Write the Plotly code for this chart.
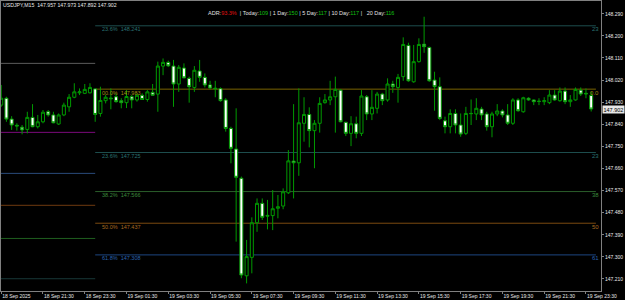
import plotly.graph_objects as go

# ---------------- data ----------------
bar_index = list(range(114))  # M15 bars from 18 Sep 19:30 to 19 Sep 23:45

opens = [
    147.918, 147.946, 147.861, 147.836, 147.828, 147.819, 147.868, 147.830, 147.850, 147.891,
    147.878, 147.841, 147.878, 147.911, 147.950, 147.968, 147.966, 147.968, 147.984, 147.884,
    147.936, 147.947, 147.952, 147.936, 147.928, 147.952, 147.939, 147.958, 147.941, 147.970,
    147.963, 148.077, 148.092, 148.077, 148.004, 148.069, 148.027, 147.990, 148.057, 148.031,
    148.000, 147.987, 147.985, 147.939, 147.823, 147.739, 147.620, 147.223, 147.298, 147.439,
    147.518, 147.469, 147.468, 147.498, 147.507, 147.561, 147.690, 147.683, 147.844, 147.880,
    147.814, 147.844, 147.928, 147.939, 147.952, 147.979, 147.848, 147.803, 147.842, 147.803,
    147.952, 147.882, 147.905, 147.963, 147.939, 148.004, 147.990, 148.034, 148.161, 148.013,
    148.095, 148.166, 148.153, 148.020, 147.993, 147.854, 147.830, 147.884, 147.837, 147.803,
    147.883, 147.882, 147.902, 147.882, 147.830, 147.882, 147.894, 147.878, 147.844, 147.939,
    147.891, 147.946, 147.939, 147.934, 147.932, 147.928, 147.959, 147.936, 147.975, 147.932,
    147.939, 147.979, 147.966, 147.957]

highs = [
    148.000, 147.952, 147.873, 147.844, 147.837, 147.891, 147.922, 147.878, 147.898, 147.898,
    147.891, 147.884, 147.928, 147.963, 148.007, 147.986, 148.004, 148.007, 147.986, 147.993,
    147.959, 147.986, 147.966, 147.946, 147.979, 147.959, 147.966, 147.966, 147.979, 148.004,
    148.095, 148.108, 148.099, 148.102, 148.081, 148.088, 148.034, 148.077, 148.102, 148.047,
    148.017, 148.017, 147.990, 147.946, 147.830, 147.905, 147.627, 147.369, 147.461, 147.538,
    147.538, 147.532, 147.572, 147.552, 147.579, 147.735, 147.922, 147.986, 147.950, 147.909,
    147.857, 147.950, 147.963, 148.017, 148.034, 147.982, 147.850, 147.873, 147.871, 147.979,
    147.959, 147.979, 147.972, 147.968, 148.027, 148.017, 148.045, 148.194, 148.172, 148.163,
    148.190, 148.278, 148.156, 148.054, 148.031, 147.871, 147.901, 147.901, 147.884, 147.911,
    147.941, 147.946, 147.911, 147.891, 147.891, 147.922, 147.901, 147.922, 147.946, 147.946,
    147.952, 147.950, 147.941, 147.946, 147.950, 147.979, 147.979, 147.990, 147.990, 147.959,
    147.990, 147.990, 147.986, 147.973]

lows = [
    147.911, 147.850, 147.817, 147.814, 147.799, 147.803, 147.828, 147.823, 147.844, 147.871,
    147.844, 147.837, 147.873, 147.891, 147.946, 147.959, 147.963, 147.966, 147.850, 147.871,
    147.925, 147.901, 147.928, 147.905, 147.906, 147.905, 147.932, 147.939, 147.932, 147.955,
    147.891, 148.040, 148.073, 147.911, 147.972, 148.027, 147.928, 147.972, 148.013, 147.990,
    147.982, 147.950, 147.932, 147.810, 147.681, 147.362, 147.213, 147.192, 147.233, 147.402,
    147.450, 147.412, 147.409, 147.457, 147.494, 147.556, 147.538, 147.630, 147.769, 147.746,
    147.661, 147.806, 147.924, 147.918, 147.806, 147.848, 147.792, 147.751, 147.783, 147.792,
    147.857, 147.857, 147.884, 147.918, 147.932, 147.968, 147.928, 148.017, 148.013, 148.009,
    148.091, 148.131, 148.013, 147.895, 147.857, 147.803, 147.803, 147.803, 147.789, 147.796,
    147.837, 147.857, 147.857, 147.814, 147.787, 147.873, 147.868, 147.837, 147.837, 147.891,
    147.887, 147.936, 147.918, 147.918, 147.918, 147.922, 147.936, 147.932, 147.922, 147.911,
    147.936, 147.955, 147.946, 147.892]

closes = [
    147.946, 147.861, 147.837, 147.833, 147.817, 147.868, 147.830, 147.850, 147.889, 147.878,
    147.846, 147.878, 147.918, 147.950, 147.972, 147.972, 147.982, 147.990, 147.880, 147.937,
    147.950, 147.944, 147.932, 147.928, 147.953, 147.939, 147.958, 147.941, 147.972, 147.958,
    148.077, 148.092, 148.078, 148.004, 148.072, 148.029, 147.993, 148.060, 148.031, 148.000,
    147.988, 147.985, 147.936, 147.823, 147.742, 147.624, 147.226, 147.301, 147.439, 147.518,
    147.461, 147.466, 147.496, 147.504, 147.565, 147.691, 147.683, 147.846, 147.880, 147.814,
    147.844, 147.925, 147.939, 147.952, 147.982, 147.850, 147.803, 147.842, 147.803, 147.955,
    147.882, 147.909, 147.963, 147.936, 148.004, 147.993, 148.031, 148.165, 148.017, 148.095,
    148.165, 148.156, 148.017, 147.993, 147.864, 147.830, 147.884, 147.837, 147.800, 147.884,
    147.884, 147.905, 147.878, 147.830, 147.882, 147.894, 147.878, 147.844, 147.939, 147.895,
    147.948, 147.939, 147.932, 147.933, 147.936, 147.959, 147.939, 147.975, 147.932, 147.939,
    147.982, 147.963, 147.964, 147.902]

x_tick_pos = [0, 8, 16, 24, 32, 40, 48, 56, 64, 72, 80, 88, 96, 104, 112]
x_tick_labels = ["18 Sep 2025", "18 Sep 21:30", "18 Sep 23:30", "19 Sep 01:30", "19 Sep 03:30",
                 "19 Sep 05:30", "19 Sep 07:30", "19 Sep 09:30", "19 Sep 11:30", "19 Sep 13:30",
                 "19 Sep 15:30", "19 Sep 17:30", "19 Sep 19:30", "19 Sep 21:30", "19 Sep 23:30"]

y_ticks = [147.210, 147.300, 147.390, 147.480, 147.570, 147.660, 147.750,
           147.840, 147.930, 148.020, 148.110, 148.200, 148.290]
y_tick_labels = ["%.3f" % v for v in y_ticks]

# today's fibonacci levels
fib_names = ["23.6%", "00.0%", "23.6%", "38.2%", "50.0%", "61.8%"]
fib_values = [148.241, 147.983, 147.725, 147.566, 147.437, 147.308]
fib_short = ["23", "0.0", "23", "38", "50", "61"]
fib_line_colors = ["#1d4d4d", "#7a6400", "#1d4d4d", "#2a5e2a", "#7a4a10", "#1c4680"]
fib_text_colors = ["#2a7272", "#a08a10", "#2a7272", "#3c8a3c", "#a86a20", "#2a64b0"]
fib_start_bar = 18

# previous day's levels (short lines on the left)
prev_values = [148.088, 147.807, 147.640, 147.510, 147.375, 147.211]
prev_colors = ["#5c5c5c", "#7a0a7a", "#2a4a7a", "#6e3a10", "#1f5f1f", "#183838"]

header_text = "USDJPY,M15  147.957 147.973 147.892 147.902"
adr_parts = [("ADR:", "#e0e0e0"), ("93.3%", "#e01010"), ("  | Today:", "#e0e0e0"), ("109", "#10c010"),
             (" | 1 Day:", "#e0e0e0"), ("150", "#10c010"), (" | 5 Day:", "#e0e0e0"), ("117", "#10c010"),
             (" | 10 Day:", "#e0e0e0"), ("117", "#10c010"), (" |   20 Day:", "#e0e0e0"), ("116", "#10c010")]
last_price = 147.902

assert len(opens) == len(highs) == len(lows) == len(closes) == len(bar_index)

# ---------------- figure ----------------
W, H = 625, 300
ML, MR, MT, MB = 1, 24, 1, 9
PW = W - ML - MR
PH = H - MT - MB
FONT = "Liberation Sans, Arial, sans-serif"
WICK = "#009a00"


def px_x(px):
    return (px - ML) / PW


def px_y(py):
    return (H - MB - py) / PH


fig = go.Figure()
fig.add_trace(go.Candlestick(
    x=bar_index, open=opens, high=highs, low=lows, close=closes,
    increasing=dict(line=dict(color=WICK, width=1), fillcolor="#000000"),
    decreasing=dict(line=dict(color=WICK, width=1), fillcolor="#ffffff"),
    whiskerwidth=0, hoverinfo="skip", showlegend=False,
))

shapes = []
annotations = []
x_left, x_right = -0.04, 114.88
for v, c in zip(prev_values, prev_colors):
    shapes.append(dict(type="line", xref="x", yref="y", x0=x_left, x1=fib_start_bar, y0=v, y1=v,
                       line=dict(color=c, width=1), layer="below"))

for name, v, s, lc, tc in zip(fib_names, fib_values, fib_short, fib_line_colors, fib_text_colors):
    shapes.append(dict(type="line", xref="x", yref="y", x0=fib_start_bar, x1=113.9, y0=v, y1=v,
                       line=dict(color=lc, width=1), layer="below"))
    annotations.append(dict(xref="paper", yref="y", x=px_x(100), y=v, yshift=-3.5,
                            text="%s  %.3f" % (name, v), showarrow=False, xanchor="left",
                            yanchor="middle", font=dict(family=FONT, size=5.5, color=tc)))
    annotations.append(dict(xref="paper", yref="y", x=px_x(601), y=v, yshift=-3.5,
                            text=s, showarrow=False, xanchor="right", yanchor="middle",
                            font=dict(family=FONT, size=6, color=tc)))

annotations.append(dict(xref="paper", yref="paper", x=px_x(1), y=px_y(5), text=header_text,
                        showarrow=False, xanchor="left", yanchor="middle",
                        font=dict(family=FONT, size=5.2, color="#e8e8e8")))
adr_html = "".join('<span style="color:%s">%s</span>' % (c, t.replace(" ", "&nbsp;")) for t, c in adr_parts)
annotations.append(dict(xref="paper", yref="paper", x=px_x(206), y=px_y(13.3), text=adr_html,
                        showarrow=False, xanchor="left", yanchor="middle",
                        font=dict(family=FONT, size=5.5, color="#e0e0e0")))
annotations.append(dict(xref="paper", yref="y", x=1.0, y=last_price, xshift=1,
                        text="%.3f" % last_price, showarrow=False, xanchor="left", yanchor="middle",
                        bgcolor="#e6e6e6", borderpad=0.5,
                        font=dict(family=FONT, size=5.5, color="#000000")))

fig.update_layout(
    width=W, height=H,
    margin=dict(l=ML, r=MR, t=MT, b=MB, autoexpand=False),
    paper_bgcolor="#000000", plot_bgcolor="#000000",
    boxgap=0.42, boxgroupgap=0,
    shapes=shapes, annotations=annotations,
    showlegend=False,
    xaxis=dict(range=[x_left, x_right], rangeslider=dict(visible=False),
               tickmode="array", tickvals=x_tick_pos, ticktext=x_tick_labels,
               ticklabelposition="outside right",
               showgrid=False, zeroline=False, showline=True, mirror=True,
               linecolor="#808080", linewidth=1, ticks="outside", ticklen=2, tickcolor="#808080",
               tickfont=dict(family=FONT, size=5, color="#e8e8e8"), automargin=False),
    yaxis=dict(range=[147.161, 148.342], side="right",
               tickmode="array", tickvals=y_ticks, ticktext=y_tick_labels,
               showgrid=False, zeroline=False, showline=True, mirror=True,
               linecolor="#808080", linewidth=1, ticks="outside", ticklen=2, tickcolor="#808080",
               tickfont=dict(family=FONT, size=5, color="#e8e8e8"), automargin=False),
)

fig.write_html("out.html")
